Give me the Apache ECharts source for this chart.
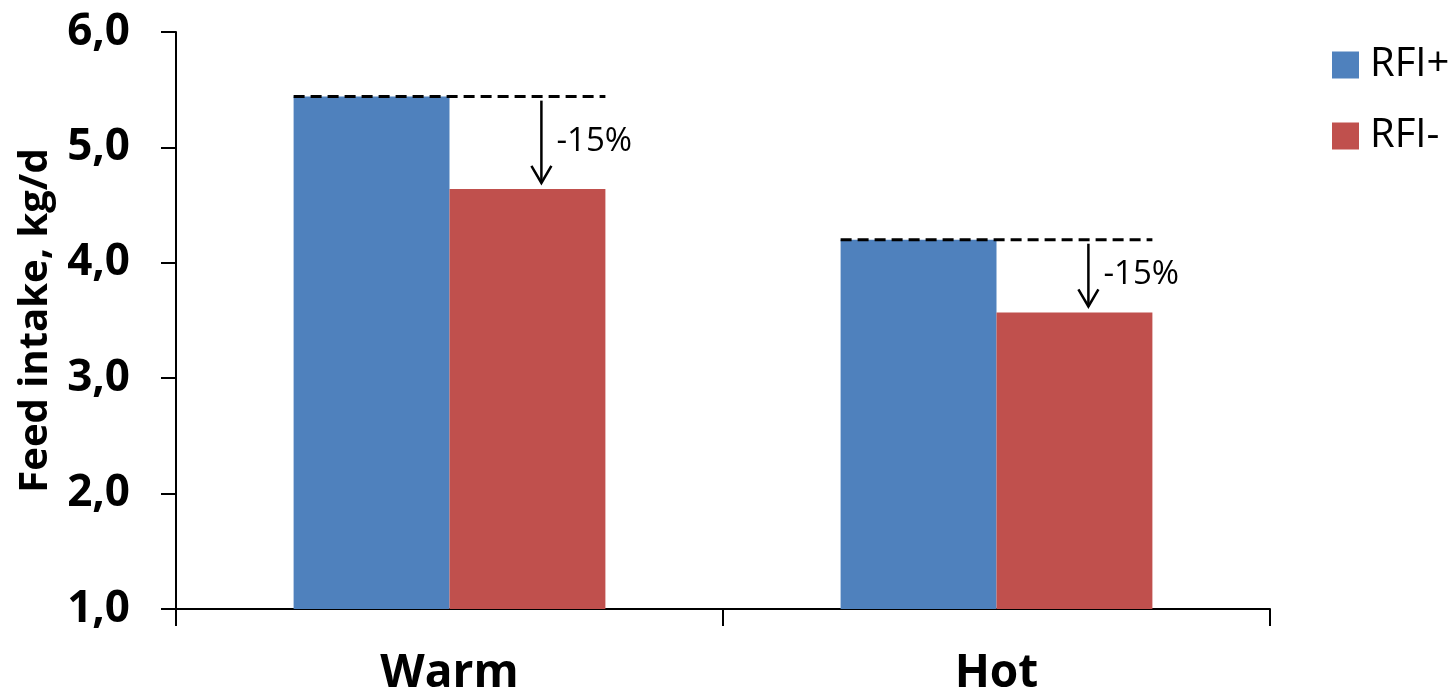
<!DOCTYPE html>
<html>
<head>
<meta charset="utf-8">
<script src="https://cdn.jsdelivr.net/npm/echarts@6/dist/echarts.min.js"></script>
<style>
html,body{margin:0;padding:0;background:#fff;}
#chart{width:1456px;height:697px;}
</style>
</head>
<body>
<div id="chart"></div>
<script>
const categories = ['Warm', 'Hot'];
const seriesNames = ['RFI+', 'RFI-'];
const rfiPlus = [5.44, 4.20];
const rfiMinus = [4.64, 3.57];
const changeLabels = ['-15%', '-15%'];
const yTicks = [1, 2, 3, 4, 5, 6];

const FONT = '"Open Sans", "Liberation Sans", sans-serif';
const chart = echarts.init(document.getElementById('chart'), null, {renderer: 'canvas'});

const annotData = categories.map((c, i) => [i, rfiPlus[i], rfiMinus[i], changeLabels[i]]);

function renderAnnot(params, api) {
  const i = api.value(0);
  const top = api.coord([i, api.value(1)]);
  const bot = api.coord([i, api.value(2)]);
  const band = api.size([1, 0])[0];
  const cx = top[0];
  const half = band * 0.285;
  const ax = cx + band * 0.168;
  const y0 = top[1] + 4;
  const tip = bot[1] - 6;
  const label = annotData[params.dataIndex][3];
  return {
    type: 'group',
    children: [
      {type: 'line', shape: {x1: cx - half, y1: top[1], x2: cx + half, y2: top[1]},
       style: {stroke: '#000', lineWidth: 3, lineDash: [11, 6]}},
      {type: 'line', shape: {x1: ax, y1: y0, x2: ax, y2: tip},
       style: {stroke: '#000', lineWidth: 2.5}},
      {type: 'polyline', shape: {points: [[ax - 10, tip - 17], [ax, tip], [ax + 10, tip - 17]]},
       style: {stroke: '#000', lineWidth: 2.5, fill: null}},
      {type: 'text', x: ax + 15, y: (y0 + tip) / 2,
       style: {text: label, fill: '#000', font: '33px ' + FONT, verticalAlign: 'middle', align: 'left'}}
    ]
  };
}

chart.setOption({
  animation: false,
  backgroundColor: '#fff',
  grid: {left: 176, right: 186, top: 32, bottom: 88, containLabel: false, outerBoundsMode: 'none'},
  legend: {
    orient: 'vertical', left: 1332, top: 45, padding: 0,
    itemWidth: 27, itemHeight: 27, itemGap: 31,
    icon: 'rect',
    data: seriesNames,
    textStyle: {fontFamily: FONT, fontSize: 40, color: '#000', padding: [0, 0, 0, 6]}
  },
  xAxis: {
    type: 'category',
    data: categories,
    axisLine: {lineStyle: {color: '#000', width: 2}},
    axisTick: {show: true, inside: false, length: 17, lineStyle: {color: '#000', width: 2}},
    axisLabel: {fontFamily: FONT, fontWeight: 'bold', fontSize: 46, color: '#000', margin: 42}
  },
  yAxis: {
    type: 'value',
    min: 1, max: 6, interval: 1,
    name: 'Feed intake, kg/d',
    nameLocation: 'middle',
    nameGap: 120,
    nameTextStyle: {fontFamily: FONT, fontWeight: 'bold', fontSize: 40, color: '#000'},
    axisLine: {show: true, lineStyle: {color: '#000', width: 2}},
    axisTick: {show: true, inside: false, length: 15, lineStyle: {color: '#000', width: 2}},
    splitLine: {show: false},
    axisLabel: {
      fontFamily: FONT, fontWeight: 'bold', fontSize: 44, color: '#000', margin: 46,
      formatter: v => yTicks.includes(v) ? v.toFixed(1).replace('.', ',') : ''
    }
  },
  series: [
    {name: seriesNames[0], type: 'bar', data: rfiPlus, barGap: '0%', barCategoryGap: '43%',
     itemStyle: {color: '#4F81BD'}},
    {name: seriesNames[1], type: 'bar', data: rfiMinus, barGap: '0%', barCategoryGap: '43%',
     itemStyle: {color: '#C0504D'}},
    {type: 'custom', data: annotData, renderItem: renderAnnot, encode: {x: 0, y: 1},
     silent: true, z: 10}
  ]
});
</script>
</body>
</html>
